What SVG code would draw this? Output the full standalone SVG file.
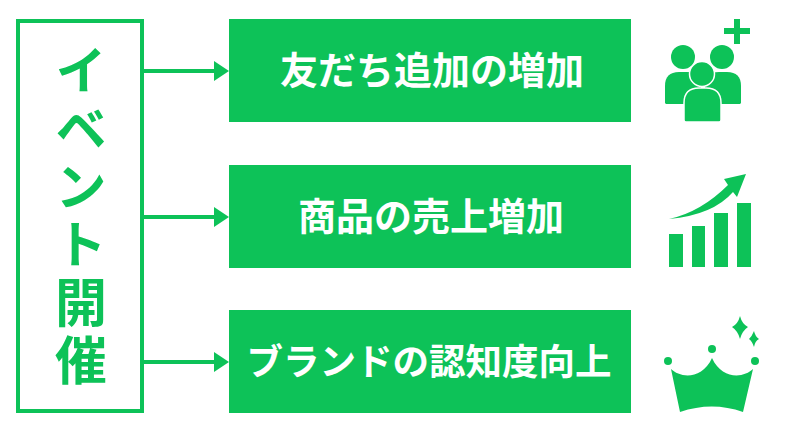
<svg xmlns="http://www.w3.org/2000/svg" width="800" height="430" viewBox="0 0 800 430">
<style>
.g{fill:#0dc258}
.box{fill:#0dc258}
.lbl{font-family:"Noto Sans CJK JP","Noto Sans",sans-serif;font-weight:700;fill:#fff;text-anchor:middle}
.v{font-family:"Noto Sans CJK JP","Noto Sans",sans-serif;font-weight:700;fill:#0dc258;font-size:52px;writing-mode:vertical-rl;letter-spacing:6px}
.conn{stroke:#0dc258;stroke-width:4;fill:none}
</style>
<defs>
<marker id="arr" markerUnits="userSpaceOnUse" markerWidth="15" markerHeight="20" refX="8" refY="10" orient="auto"><path d="M0 0L15 10L0 20Z" fill="#0dc258"/></marker>
</defs>
<rect width="800" height="430" fill="#fff"/>
<g id="connectors">
<line class="conn" x1="144" y1="71" x2="222" y2="71" marker-end="url(#arr)"/>
<line class="conn" x1="144" y1="217" x2="222" y2="217" marker-end="url(#arr)"/>
<line class="conn" x1="144" y1="362" x2="222" y2="362" marker-end="url(#arr)"/>
</g>
<g id="event">
<rect x="18" y="21" width="124" height="390" fill="#fff" stroke="#0dc258" stroke-width="4"/>
<text class="v" x="81" y="44">イベント開催</text>
</g>
<g id="node1">
<rect class="box" x="229" y="19" width="402" height="103"/>
<text class="lbl" x="432" y="84" font-size="38">友だち追加の増加</text>
</g>
<g id="node2">
<rect class="box" x="229" y="165" width="402" height="103"/>
<text class="lbl" x="431" y="230" font-size="38">商品の売上増加</text>
</g>
<g id="node3">
<rect class="box" x="229" y="310" width="402" height="103"/>
<text class="lbl" x="429" y="375" font-size="36.500">ブランドの認知度向上</text>
</g>
<g id="icon-friends" class="g">
<path d="M734 19h6v9h10v6h-10v10h-6v-10h-10v-6h10z"/>
<circle cx="683" cy="57" r="12"/>
<circle cx="722" cy="57" r="12"/>
<path d="M665 103V86q0-14 14-14h8q14 0 14 14v18h-35z"/>
<path d="M741 103V86q0-14-14-14h-8q-14 0-14 14v18h35z"/>
<circle cx="702" cy="74" r="12.500" stroke="#fff" stroke-width="1.500"/>
<path d="M684 120V103q0-15 15-15h7q15 0 15 15v17q0 2-2 2h-33q-2 0-2-2z" stroke="#fff" stroke-width="1.500"/>
</g>
<g id="icon-chart" class="g">
<rect x="669" y="234" width="14" height="33"/>
<rect x="692" y="226" width="13" height="41"/>
<rect x="714" y="213" width="14" height="54"/>
<rect x="737" y="203" width="14" height="64"/>
<path d="M746 174L724 179L728 185Q701 212 669 219Q713 215 733 192L737 197Z"/>
</g>
<g id="icon-crown" class="g">
<circle cx="668" cy="361" r="4"/>
<circle cx="712" cy="349" r="4"/>
<circle cx="755" cy="361" r="4"/>
<path d="M671 369C680 378 702 380 712 358C722 380 744 378 753 369L743 412Q712 401 680 412Z"/>
<path d="M740 316Q742 324 748 327Q742 331 740 339Q738 331 732 327Q738 324 740 316Z"/>
<path d="M754 331Q755 336 759 339Q755 341 754 347Q752 341 749 339Q752 336 754 331Z"/>
</g>
</svg>
